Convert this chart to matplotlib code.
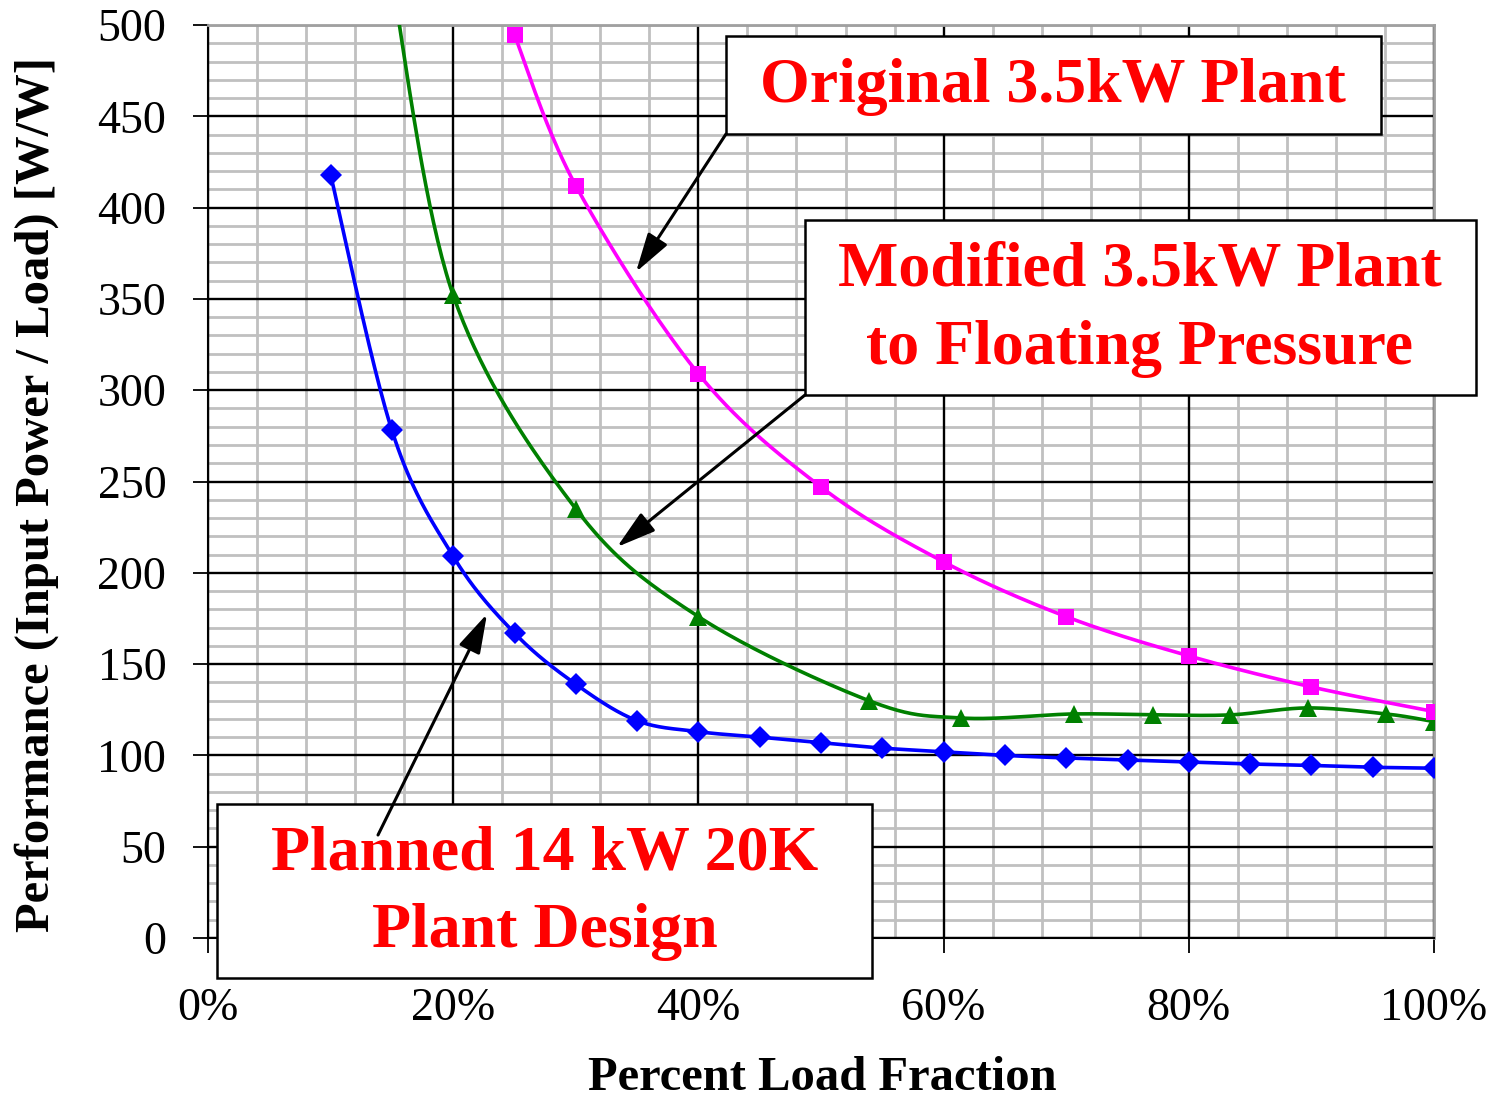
import numpy as np
import matplotlib
matplotlib.use("Agg")
import matplotlib.pyplot as plt
from matplotlib.patches import Rectangle, FancyArrowPatch
from matplotlib.ticker import MultipleLocator, FuncFormatter

# ---- data -------------------------------------------------------------
planned_x = [10, 15, 20, 25, 30, 35, 40, 45, 50, 55, 60, 65, 70, 75, 80, 85, 90, 95, 100]
planned_y = [418, 278, 209, 167, 139, 119, 113, 110, 107, 104, 102, 100, 98.6, 97.5,
             96.4, 95.3, 94.5, 93.5, 93]

original_x = [25, 30, 40, 50, 60, 70, 80, 90, 100]
original_y = [494.5, 412, 309, 247, 206, 176, 154.5, 137.5, 124]

modified_x = [15, 20, 30, 40, 53.9, 61.4, 70.6, 77.1, 83.4, 89.7, 96.1, 100]
modified_y = [525, 352, 235, 176, 130, 120.5, 122.7, 122.2, 122.2, 126, 122.7, 118.5]

x_ticks = [0, 20, 40, 60, 80, 100]
y_ticks = [0, 50, 100, 150, 200, 250, 300, 350, 400, 450, 500]

label_original = "Original 3.5kW Plant"
label_modified = ["Modified 3.5kW Plant", "to Floating Pressure"]
label_planned = ["Planned 14 kW 20K", "Plant Design"]

plt.rcParams["font.family"] = ["Liberation Serif", "DejaVu Serif"]

W, H = 1497, 1099
fig = plt.figure(figsize=(W / 100, H / 100), dpi=100)
ax = fig.add_axes([208 / W, 1 - 938 / H, (1434 - 208) / W, (938 - 25) / H])

XMAX, YMAX = 100, 500
ax.set_xlim(0, XMAX)
ax.set_ylim(0, YMAX)
ax_w_px = (1434 - 208)
ax_h_px = (938 - 25)


def smooth(xs, ys, n=40):
    """Bezier smoothing through the points (cardinal spline, 1/6 tangents)."""
    P = np.column_stack([np.asarray(xs, float) * ax_w_px / XMAX,
                         np.asarray(ys, float) * ax_h_px / YMAX])
    out = []
    t = np.linspace(0, 1, n)[:, None]
    m = len(P)
    for i in range(m - 1):
        p0 = P[i - 1] if i > 0 else P[i]
        p1, p2 = P[i], P[i + 1]
        p3 = P[i + 2] if i + 2 < m else P[i + 1]
        c1 = p1 + (p2 - p0) / 6.0
        c2 = p2 - (p3 - p1) / 6.0
        seg = ((1 - t) ** 3) * p1 + 3 * ((1 - t) ** 2) * t * c1 + 3 * (1 - t) * t ** 2 * c2 + t ** 3 * p2
        out.append(seg if i == 0 else seg[1:])
    S = np.vstack(out)
    return S[:, 0] * XMAX / ax_w_px, S[:, 1] * YMAX / ax_h_px


series = [
    (planned_x, planned_y, "#0000ff", "D", 11),
    (modified_x, modified_y, "#008000", "^", 13),
    (original_x, original_y, "#ff00ff", "s", 12),
]
for xs, ys, col, mk, ms in series:
    sx, sy = smooth(xs, ys)
    ax.plot(sx, sy, color=col, lw=2.6, zorder=3, solid_capstyle="round")
    ax.plot(xs, ys, linestyle="none", marker=mk, ms=ms, color=col,
            markeredgewidth=0, zorder=4)

# ---- grid ---------------------------------------------------------------
ax.xaxis.set_major_locator(MultipleLocator(20))
ax.yaxis.set_major_locator(MultipleLocator(50))
ax.xaxis.set_minor_locator(MultipleLocator(4))
ax.yaxis.set_minor_locator(MultipleLocator(10))
ax.grid(which="minor", color="#c0c0c0", lw=2.0, zorder=0)
for xv in x_ticks:
    ax.axvline(xv, color="black", lw=1.7, zorder=1)
for yv in y_ticks:
    ax.axhline(yv, color="black", lw=1.7, zorder=1)
ax.set_axisbelow(True)

ax.set_xticks(x_ticks)
ax.set_yticks(y_ticks)
ax.xaxis.set_major_formatter(FuncFormatter(lambda v, p: f"{int(v)}%"))
ax.tick_params(which="major", direction="out", length=11, width=1.3,
               labelsize=33, colors="black")
ax.tick_params(axis="y", pad=19)
ax.tick_params(axis="x", pad=25)
ax.tick_params(which="minor", length=0)

for side in ("left", "bottom"):
    ax.spines[side].set_color("black")
    ax.spines[side].set_linewidth(1.5)
for side in ("top", "right"):
    ax.spines[side].set_color("#a0a0a0")
    ax.spines[side].set_linewidth(2.0)

fig.text(822 / W, 1 - 1078 / H, "Percent Load Fraction", ha="center", va="center",
         fontsize=35, fontweight="bold")
fig.text(37 / W, 1 - 495 / H, "Performance (Input Power / Load) [W/W]", ha="center",
         va="center", rotation=90, fontsize=35, fontweight="bold")


# ---- callout boxes --------------------------------------------------------
def px(x, y):
    return (x / W, 1 - y / H)


def box(x0, y0, x1, y1):
    r = Rectangle(px(x0, y1), (x1 - x0) / W, (y1 - y0) / H, transform=fig.transFigure,
                  facecolor="white", edgecolor="black", lw=1.8, zorder=10)
    fig.add_artist(r)


def red(x, y, s):
    fig.text(x / W, 1 - y / H, s, ha="center", va="center", color="#ff0000",
             fontsize=46, fontweight="bold", zorder=11)


def arrow(x0, y0, x1, y1):
    a = FancyArrowPatch(px(x0, y0), px(x1, y1), transform=fig.transFigure,
                        arrowstyle="-|>,head_length=0.75,head_width=0.22",
                        mutation_scale=32, color="black", lw=2.2,
                        shrinkA=0, shrinkB=0, zorder=12)
    fig.add_artist(a)


box(726, 36, 1381, 134)
red(1053, 87, label_original)
arrow(726, 134, 636, 272)

box(805, 220, 1476, 395)
red(1140, 271, label_modified[0])
red(1140, 349, label_modified[1])
arrow(805, 395, 617, 547)

box(217, 804, 872, 978)
red(545, 855, label_planned[0])
red(545, 932, label_planned[1])
arrow(378, 835, 487, 614)

fig.savefig("out.png", dpi=100)
